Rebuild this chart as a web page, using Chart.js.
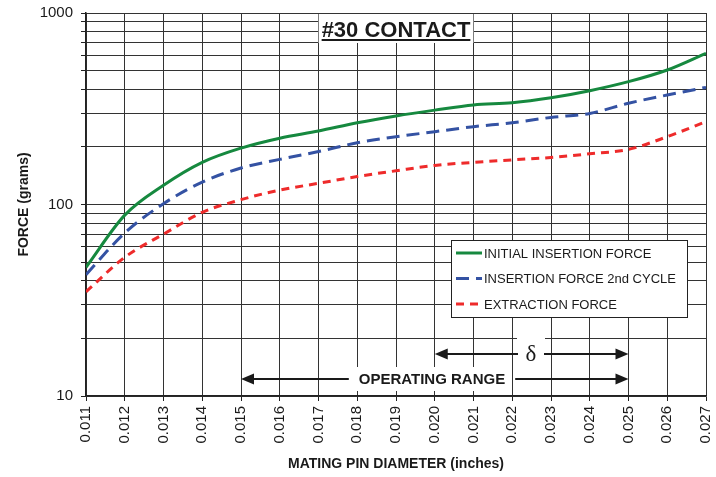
<!DOCTYPE html>
<html>
<head>
<meta charset="utf-8">
<script src="https://cdn.jsdelivr.net/npm/chart.js@4"></script>
<style>
  html, body { margin: 0; padding: 0; background: #fff; }
  #wrap { width: 716px; height: 477px; }
</style>
</head>
<body>
<div id="wrap"><canvas id="forceChart" width="716" height="477"></canvas></div>
<script>
// pin diameters (inches)
const xTickLabels = ['0.011', '0.012', '0.013', '0.014', '0.015', '0.016', '0.017', '0.018', '0.019',
                     '0.020', '0.021', '0.022', '0.023', '0.024', '0.025', '0.026', '0.027'];
const diameters = xTickLabels.map(Number);

// force in grams
const initialInsertion = [47, 88, 126, 166, 197, 222, 242, 267, 290, 311, 331, 340, 361, 393, 438, 504, 616];
const secondCycle      = [43, 71, 101, 131, 155, 172, 189, 210, 226, 240, 255, 267, 285, 299, 338, 373, 409];
const extraction       = [35, 53, 70, 91, 106, 119, 129, 140, 150, 160, 166, 171, 176, 184, 194, 226, 271];

const seriesLabels = ['INITIAL INSERTION FORCE', 'INSERTION FORCE 2nd CYCLE', 'EXTRACTION FORCE'];

const yGridTicks = [10, 20, 30, 40, 50, 60, 70, 80, 90, 100, 200, 300, 400, 500, 600, 700, 800, 900, 1000];
const yLabelTicks = [10, 100, 1000];

// arrows under the curves: [from, to]
const deltaRange = [0.020, 0.025];
const operatingRange = [0.015, 0.025];

const FONT = "'Liberation Sans', Arial, sans-serif";

function toPoints(values) {
    return values.map((v, i) => ({ x: diameters[i], y: v }));
}

function arrowHead(ctx, x, y, dir) {
    ctx.beginPath();
    ctx.moveTo(x, y);
    ctx.lineTo(x - dir * 13, y - 5.5);
    ctx.lineTo(x - dir * 13, y + 5.5);
    ctx.closePath();
    ctx.fill();
}

const overlayPlugin = {
    id: 'overlay',
    afterDatasetsDraw(chart) {
        const ctx = chart.ctx;
        const xs = chart.scales.x;
        const area = chart.chartArea;
        ctx.save();

        // title box
        const tx = xs.getPixelForValue(0.019);
        ctx.font = 'bold 22px ' + FONT;
        const tw = ctx.measureText('#30 CONTACT').width;
        ctx.fillStyle = '#fff';
        ctx.fillRect(tx - tw / 2 - 3, area.top + 1, tw + 6, 29);
        ctx.fillStyle = '#1a1a1a';
        ctx.textAlign = 'center';
        ctx.textBaseline = 'alphabetic';
        ctx.fillText('#30 CONTACT', tx, area.top + 24);
        ctx.fillRect(tx - tw / 2, area.top + 26, tw, 2);

        // delta arrow
        ctx.strokeStyle = '#1a1a1a';
        ctx.fillStyle = '#1a1a1a';
        ctx.lineWidth = 2;
        const dy = 354;
        const d0 = xs.getPixelForValue(deltaRange[0]);
        const d1 = xs.getPixelForValue(deltaRange[1]);
        const dc = 531;
        ctx.fillStyle = '#fff';
        ctx.fillRect(dc - 14, 335, 28, 36);
        ctx.fillStyle = '#1a1a1a';
        ctx.beginPath();
        ctx.moveTo(d0 + 4, dy); ctx.lineTo(dc - 13, dy);
        ctx.moveTo(dc + 13, dy); ctx.lineTo(d1 - 4, dy);
        ctx.stroke();
        arrowHead(ctx, d0, dy, -1);
        arrowHead(ctx, d1, dy, 1);
        ctx.font = "23px 'Liberation Serif', 'DejaVu Serif', serif";
        ctx.textBaseline = 'middle';
        ctx.fillText('\u03b4', dc, dy + 1);

        // operating range arrow
        const oy = 379;
        const o0 = xs.getPixelForValue(operatingRange[0]);
        const o1 = xs.getPixelForValue(operatingRange[1]);
        ctx.font = 'bold 15px ' + FONT;
        const ow = ctx.measureText('OPERATING RANGE').width;
        const oc = 432;
        ctx.fillStyle = '#fff';
        ctx.fillRect(oc - ow / 2 - 6, oy - 12, ow + 12, 24);
        ctx.fillStyle = '#1a1a1a';
        ctx.fillText('OPERATING RANGE', oc, oy + 1);
        ctx.beginPath();
        ctx.moveTo(o0 + 4, oy); ctx.lineTo(oc - ow / 2 - 10, oy);
        ctx.moveTo(oc + ow / 2 + 10, oy); ctx.lineTo(o1 - 4, oy);
        ctx.stroke();
        arrowHead(ctx, o0, oy, -1);
        arrowHead(ctx, o1, oy, 1);

        // legend box
        const lx = 451, ly = 240, lw = 236, lh = 77;
        ctx.fillStyle = '#fff';
        ctx.fillRect(lx, ly, lw, lh);
        ctx.lineWidth = 1;
        ctx.strokeStyle = '#222';
        ctx.strokeRect(lx + 0.5, ly + 0.5, lw, lh);
        ctx.font = '13px ' + FONT;
        ctx.textAlign = 'left';
        chart.data.datasets.forEach((ds, i) => {
            const ry = 253 + i * 25.5;
            ctx.strokeStyle = ds.borderColor;
            ctx.lineWidth = 3;
            ctx.setLineDash(ds.borderDash || []);
            ctx.beginPath();
            ctx.moveTo(456, ry); ctx.lineTo(482, ry);
            ctx.stroke();
            ctx.setLineDash([]);
            ctx.fillStyle = '#1a1a1a';
            ctx.fillText(ds.label, 484, ry + 1);
        });
        ctx.restore();
    }
};

const ctx = document.getElementById('forceChart').getContext('2d');
const chart = new Chart(ctx, {
    type: 'line',
    data: {
        datasets: [{
            label: seriesLabels[0],
            data: toPoints(initialInsertion),
            borderColor: '#16893f',
            borderWidth: 3
        }, {
            label: seriesLabels[1],
            data: toPoints(secondCycle),
            borderColor: '#3452a3',
            borderWidth: 3,
            borderDash: [13, 7]
        }, {
            label: seriesLabels[2],
            data: toPoints(extraction),
            borderColor: '#ee2b2b',
            borderWidth: 3,
            borderDash: [8, 6]
        }]
    },
    options: {
        responsive: false,
        animation: false,
        layout: { padding: { top: 13, right: 10, left: 0, bottom: 0 } },
        elements: {
            point: { radius: 0 },
            line: { tension: 0.4, cubicInterpolationMode: 'monotone', fill: false }
        },
        plugins: {
            legend: { display: false },
            tooltip: { enabled: false }
        },
        scales: {
            x: {
                type: 'linear',
                min: diameters[0],
                max: diameters[diameters.length - 1],
                afterBuildTicks: scale => { scale.ticks = diameters.map(v => ({ value: v })); },
                afterFit: scale => {
                    scale.height = 81;
                    scale.paddingLeft = 0;
                    scale.paddingRight = 0;
                },
                grid: { color: '#333', lineWidth: 1, tickLength: 5, tickColor: '#222' },
                border: { color: '#222', width: 1.5 },
                ticks: {
                    minRotation: 90,
                    maxRotation: 90,
                    padding: 5,
                    color: '#1a1a1a',
                    font: { family: FONT, size: 15 },
                    callback: (v, i) => xTickLabels[i]
                },
                title: {
                    display: true,
                    text: 'MATING PIN DIAMETER (inches)',
                    color: '#1a1a1a',
                    font: { family: FONT, size: 14, weight: 'bold' },
                    padding: { top: 4, bottom: 4 }
                }
            },
            y: {
                type: 'logarithmic',
                min: 10,
                max: 1000,
                afterBuildTicks: scale => { scale.ticks = yGridTicks.map(v => ({ value: v })); },
                afterFit: scale => {
                    scale.width = 86;
                    scale.paddingTop = 0;
                    scale.paddingBottom = 0;
                },
                grid: { color: '#333', lineWidth: 1, tickLength: 5, tickColor: '#222' },
                border: { color: '#222', width: 1.5 },
                ticks: {
                    padding: 8,
                    color: '#1a1a1a',
                    font: { family: FONT, size: 15 },
                    autoSkip: false,
                    callback: v => yLabelTicks.includes(v) ? String(v) : ''
                },
                title: {
                    display: true,
                    text: 'FORCE (grams)',
                    color: '#1a1a1a',
                    font: { family: FONT, size: 14, weight: 'bold' },
                    padding: { top: 16, bottom: 0 }
                }
            }
        }
    },
    plugins: [overlayPlugin]
});
</script>
</body>
</html>
